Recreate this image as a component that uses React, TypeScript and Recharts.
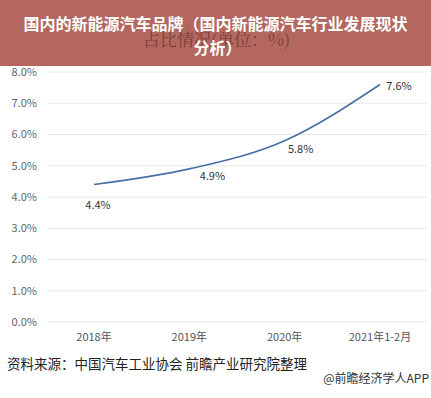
import React from 'react';
import { LineChart, Line, XAxis, YAxis, CartesianGrid, LabelList } from 'recharts';

const categories = ['2018年', '2019年', '2020年', '2021年1-2月'];
const shareValues = [4.4, 4.9, 5.8, 7.6];
const yTicks = [0, 1, 2, 3, 4, 5, 6, 7, 8];

const chartData = categories.map((name, i) => ({ name, share: shareValues[i] }));

const FONT = '"Noto Sans CJK SC", "Noto Sans", sans-serif';

// label offsets per point, the source puts them a bit irregularly
const labelOffsets = [
  { dx: 4, dy: 19 },
  { dx: 23, dy: 6 },
  { dx: 16, dy: 7 },
  { dx: 19, dy: 0 },
];

const renderLabel = (props: any) => {
  const { x, y, value, index } = props;
  const off = labelOffsets[index] || { dx: 0, dy: 0 };
  return (
    <text
      x={x + off.dx}
      y={y + off.dy}
      textAnchor="middle"
      dominantBaseline="central"
      fontSize={11}
      fill="#333"
      fontFamily={FONT}
    >
      {`${value.toFixed(1)}%`}
    </text>
  );
};

export default function App() {
  return (
    <div style={{ position: 'absolute', left: 0, top: 0, width: 431, height: 398, background: '#fff', overflow: 'hidden', fontFamily: FONT }}>
      <LineChart
        width={431}
        height={398}
        data={chartData}
        margin={{ top: 72, right: 4, bottom: 46, left: 0 }}
      >
        <CartesianGrid vertical={false} stroke="#e8e8e8" />
        <XAxis
          dataKey="name"
          axisLine={false}
          tickLine={false}
          padding={{ left: 47, right: 47 }}
          tick={{ fontSize: 11, fill: '#555', fontFamily: FONT }}
          tickMargin={5}
          height={30}
          interval={0}
        />
        <YAxis
          domain={[0, 8]}
          ticks={yTicks}
          axisLine={false}
          tickLine={false}
          width={47}
          tickMargin={4}
          tickFormatter={(v: number) => `${v.toFixed(1)}%`}
          tick={{ fontSize: 11, fill: '#666', fontFamily: FONT }}
          interval={0}
        />
        <Line
          type="monotone"
          dataKey="share"
          stroke="#4a6fa6"
          strokeWidth={1.6}
          dot={false}
          isAnimationActive={false}
        >
          <LabelList dataKey="share" content={renderLabel} />
        </Line>
      </LineChart>

      <div style={{ position: 'absolute', left: 0, top: 0, width: 431, height: 66, background: '#b4675f' }}>
        <div style={{ position: 'absolute', left: 143, top: 26, fontSize: 17, color: '#6e3a34', fontFamily: '"Noto Serif CJK SC", "Noto Sans CJK SC", serif', whiteSpace: 'nowrap', opacity: 0.85 }}>
          占比情况(单位：%)
        </div>
        <div style={{ position: 'absolute', left: 0, top: 11, width: 431, textAlign: 'center', fontSize: 16, fontWeight: 'bold', color: '#fff', lineHeight: '24px', whiteSpace: 'nowrap' }}>
          国内的新能源汽车品牌（国内新能源汽车行业发展现状
        </div>
        <div style={{ position: 'absolute', left: 0, top: 35, width: 431, textAlign: 'center', fontSize: 16, fontWeight: 'bold', color: '#fff', lineHeight: '24px', paddingLeft: 2 }}>
          分析）
        </div>
      </div>

      <div style={{ position: 'absolute', left: 7, top: 354, fontSize: 13.5, color: '#222', whiteSpace: 'nowrap', lineHeight: '18px' }}>
        资料来源：中国汽车工业协会 前瞻产业研究院整理
      </div>
      <div style={{ position: 'absolute', right: 2, top: 370, fontSize: 12, color: '#333', whiteSpace: 'nowrap', lineHeight: '16px' }}>
        @前瞻经济学人APP
      </div>
    </div>
  );
}
